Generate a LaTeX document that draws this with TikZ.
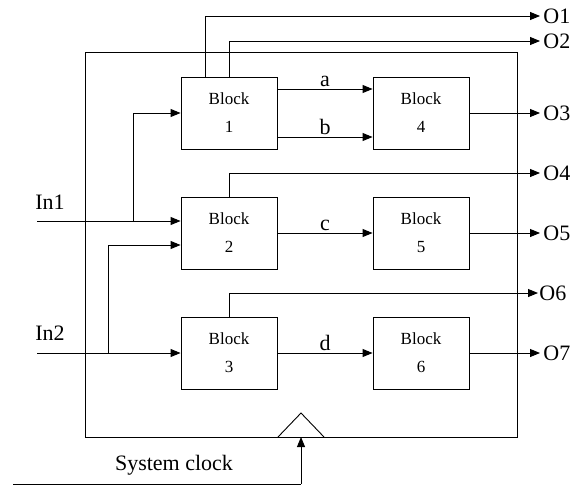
\documentclass[tikz,border=0pt]{standalone}
\usepackage{fontspec}
\setmainfont{Liberation Serif}
\usetikzlibrary{arrows.meta}
\begin{document}
\begin{tikzpicture}[x=1pt,y=-1pt,
  line width=0.9pt,
  wire/.style={draw},
  arr/.style={draw,-{Triangle[length=10pt,width=8pt]}},
  blk/.style={draw,minimum width=96pt,minimum height=72pt,inner sep=0pt,
    align=center,font=\fontsize{17}{28}\selectfont},
  lbl/.style={font=\fontsize{22}{24}\selectfont,inner sep=2pt},
  outlbl/.style={font=\fontsize{22}{24}\selectfont,anchor=west,inner sep=3pt}]
\useasboundingbox (0,0) rectangle (580,485);
\fill[white] (0,0) rectangle (580,485);

% system boundary
\node[draw,minimum width=432pt,minimum height=385pt,inner sep=0pt] (sys) at (301,244.5) {};

% blocks
\node[blk] (b1) at (229,113) {Block\\1};
\node[blk] (b4) at (421,113) {Block\\4};
\node[blk] (b2) at (229,233) {Block\\2};
\node[blk] (b5) at (421,233) {Block\\5};
\node[blk] (b3) at (229,353) {Block\\3};
\node[blk] (b6) at (421,353) {Block\\6};

% output ends
\coordinate (o1) at (540,16);
\coordinate (o2) at (540,41);
\coordinate (o3) at (540,113);
\coordinate (o4) at (540,173);
\coordinate (o5) at (540,233);
\coordinate (o6) at (538,293);
\coordinate (o7) at (540,353);
\node[outlbl] (lo1) at (o1) {O1};
\node[outlbl] (lo2) at (o2) {O2};
\node[outlbl] (lo3) at (o3) {O3};
\node[outlbl] (lo4) at (o4) {O4};
\node[outlbl] (lo5) at (o5) {O5};
\node[outlbl,inner sep=1pt] (lo6) at (o6) {O6};
\node[outlbl] (lo7) at (o7) {O7};

% outputs taken from the block tops
\draw[arr] ([xshift=-24pt]b1.north) |- (o1);
\draw[arr] (b1.north) |- (o2);
\draw[arr] (b2.north) |- (o4);
\draw[arr] (b3.north) |- (o6);
\draw[arr] (b4.east) -- (o3);
\draw[arr] (b5.east) -- (o5);
\draw[arr] (b6.east) -- (o7);

% internal signals
\draw[arr] ([yshift=24pt]b1.east) -- node[lbl,above] (la) {a} ([yshift=24pt]b4.west);
\draw[arr] ([yshift=-24pt]b1.east) -- node[lbl,above] (lb) {b} ([yshift=-24pt]b4.west);
\draw[arr] (b2.east) -- node[lbl,above] (lc) {c} (b5.west);
\draw[arr] (b3.east) -- node[lbl,above] (ld) {d} (b6.west);

% inputs
\coordinate (in1) at (37,221);
\coordinate (in2) at (37,353);
\coordinate (j1) at (133,221);
\coordinate (j2) at (108,353);
\node[lbl] (lin1) at (50,202) {In1};
\node[lbl] (lin2) at (50,333) {In2};
\draw[arr] (in1) -- ([yshift=12pt]b2.west);
\draw[arr] (j1) |- (b1.west);
\draw[arr] (in2) -- (b3.west);
\draw[arr] (j2) |- ([yshift=-12pt]b2.west);

% clock input
\coordinate (ck) at (301,437);
\coordinate (cks) at (13,484);
\coordinate (ckc) at (301,484);
\draw[wire] (278,437) -- (301,413) -- (324,437);
\draw[wire] (cks) -- (ckc);
\draw[arr] (ckc) -- (ck);
\node[lbl] (lck) at (174,465) {System clock};
\end{tikzpicture}
\end{document}
